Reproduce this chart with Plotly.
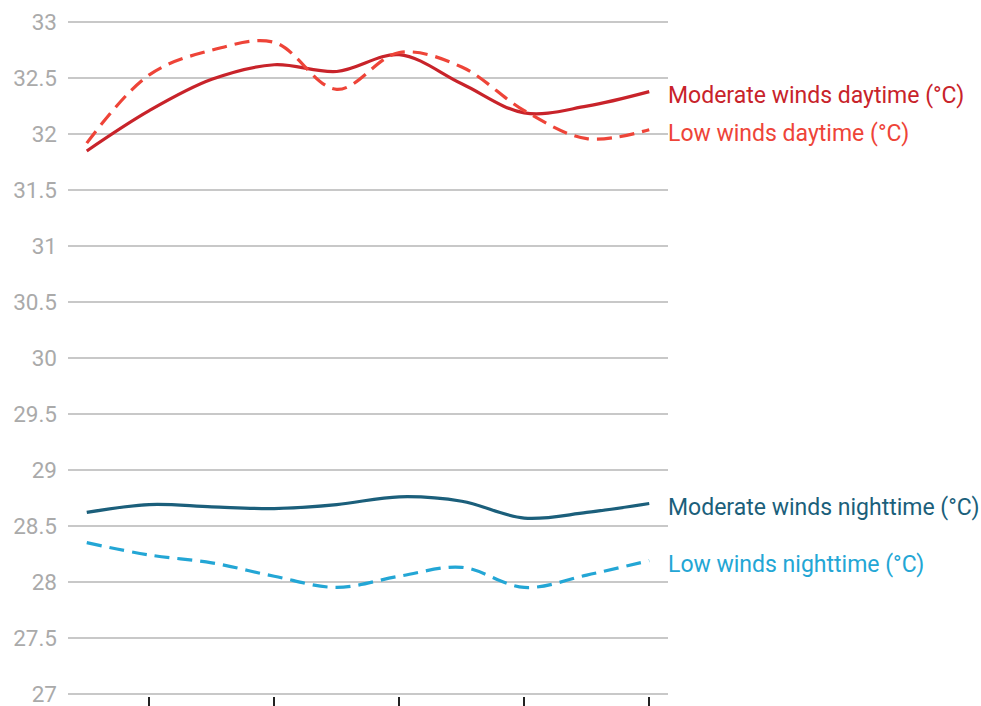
import plotly.graph_objects as go

x_idx = list(range(10))
tick_positions = [1, 3, 5, 7, 9]
tick_labels = ["", "", "", "", ""]

moderate_day = [31.85, 32.21, 32.49, 32.62, 32.56, 32.71, 32.45, 32.19, 32.25, 32.38]
low_day = [31.92, 32.53, 32.75, 32.82, 32.40, 32.73, 32.60, 32.21, 31.96, 32.04]
moderate_night = [28.62, 28.69, 28.67, 28.655, 28.69, 28.76, 28.72, 28.57, 28.62, 28.70]
low_night = [28.35, 28.24, 28.17, 28.05, 27.95, 28.05, 28.13, 27.95, 28.06, 28.19]

series = [
    ("Moderate winds daytime (°C)", moderate_day, "#c8232a", "solid"),
    ("Low winds daytime (°C)", low_day, "#ee4438", "15px,8px"),
    ("Moderate winds nighttime (°C)", moderate_night, "#1b5f7b", "solid"),
    ("Low winds nighttime (°C)", low_night, "#23a6d5", "15px,8px"),
]

fig = go.Figure()
for name, vals, color, dash in series:
    fig.add_trace(go.Scatter(
        x=x_idx, y=vals, mode="lines", name=name,
        line=dict(color=color, width=3.2, dash=dash, shape="spline", smoothing=1),
        showlegend=False, hoverinfo="skip",
    ))
    fig.add_annotation(
        x=x_idx[-1], y=vals[-1], xref="x", yref="y",
        text=name, showarrow=False, xanchor="left", yanchor="middle",
        xshift=17, yshift=-4,
        font=dict(family="Roboto", size=23, color=color),
    )

fig.update_layout(
    width=981, height=706,
    margin=dict(l=68, r=313, t=20, b=10, autoexpand=False),
    plot_bgcolor="white", paper_bgcolor="white",
    font=dict(family="Roboto"),
)
fig.update_xaxes(
    range=[-0.3, 9.3], tickvals=tick_positions, ticktext=tick_labels,
    showgrid=False, zeroline=False, showline=False, automargin=False,
    ticks="outside", ticklen=12, tickwidth=2, tickcolor="#222",
)
fig.update_yaxes(
    range=[26.98, 33.02], dtick=0.5, tick0=27, automargin=False,
    showgrid=True, gridcolor="#c8c8c8", gridwidth=2,
    zeroline=False, showline=False,
    tickfont=dict(family="Roboto", size=22.5, color="#aaaaaa"),
    ticks="", ticklabelstandoff=10, ticklabeloverflow="allow",
)

fig.write_html(
    "out.html",
    config={"displayModeBar": False},
    post_script="document.body.style.margin='0';document.body.style.overflow='hidden';",
)
